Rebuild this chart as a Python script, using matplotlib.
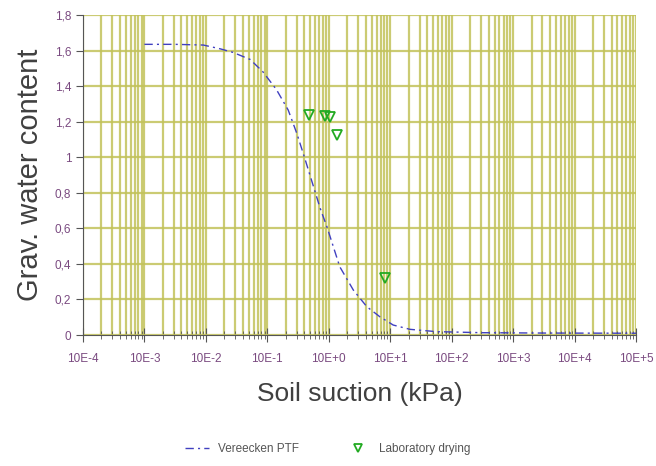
import matplotlib
matplotlib.use("Agg")
import matplotlib.pyplot as plt
import numpy as np
from matplotlib.ticker import FixedLocator, LogLocator, NullFormatter, FixedFormatter

plt.rcParams['font.family'] = ['Liberation Sans', 'DejaVu Sans']

# Vereecken PTF curve (suction kPa, gravimetric water content)
ptf_suction = [0.001, 0.00316, 0.0091, 0.017, 0.0275, 0.0525, 0.085, 0.141,
               0.219, 0.302, 0.407, 0.724, 0.933, 1.51, 2.51, 4.17, 6.76,
               11.2, 20.9, 56.2, 316.0, 3160.0, 100000.0]
ptf_water = [1.635, 1.635, 1.631, 1.61, 1.59, 1.55, 1.48, 1.38,
             1.265, 1.134, 0.994, 0.713, 0.609, 0.384, 0.253, 0.159, 0.103,
             0.056, 0.032, 0.019, 0.013, 0.011, 0.010]

# Laboratory drying points
lab_suction = [0.48, 0.87, 1.05, 1.38, 8.3]
lab_water = [1.24, 1.23, 1.225, 1.125, 0.32]

x_tick_vals = [1e-4, 1e-3, 1e-2, 1e-1, 1e0, 1e1, 1e2, 1e3, 1e4, 1e5]
x_tick_labels = ['10E-4', '10E-3', '10E-2', '10E-1', '10E+0', '10E+1',
                 '10E+2', '10E+3', '10E+4', '10E+5']
y_tick_vals = [0, 0.2, 0.4, 0.6, 0.8, 1.0, 1.2, 1.4, 1.6, 1.8]
y_tick_labels = ['0', '0,2', '0,4', '0,6', '0,8', '1', '1,2', '1,4', '1,6', '1,8']

grid_color = '#c2c25a'
label_color = '#7a4a80'

fig = plt.figure(figsize=(6.56, 4.66), dpi=100)
ax = fig.add_axes([0.1265, 0.2811, 0.8430, 0.6867])
ax.set_xscale('log')
ax.set_xlim(1e-4, 1e5)
ax.set_ylim(0, 1.8)

ax.xaxis.set_major_locator(FixedLocator(x_tick_vals))
ax.xaxis.set_major_formatter(FixedFormatter(x_tick_labels))
ax.xaxis.set_minor_locator(LogLocator(base=10, subs=np.arange(2, 10), numticks=100))
ax.xaxis.set_minor_formatter(NullFormatter())
ax.yaxis.set_major_locator(FixedLocator(y_tick_vals))
ax.yaxis.set_major_formatter(FixedFormatter(y_tick_labels))

ax.grid(True, which='major', axis='both', color=grid_color, lw=1.6, alpha=0.85)
ax.grid(True, which='minor', axis='x', color=grid_color, lw=1.6, alpha=0.85)
ax.set_axisbelow(True)

for s in ['top', 'right']:
    ax.spines[s].set_visible(False)
ax.spines['left'].set_color('#555555')
ax.spines['bottom'].set_color('#555555')
ax.spines['bottom'].set_zorder(3)
ax.spines['left'].set_zorder(3)

ax.tick_params(axis='both', which='major', labelsize=8.5, labelcolor=label_color, color='#555555')
ax.tick_params(axis='y', which='major', direction='out', length=5)
ax.tick_params(axis='x', which='major', direction='inout', length=10, pad=8)
ax.tick_params(axis='x', which='minor', direction='inout', length=6, color='#555555')

ax.plot(ptf_suction, ptf_water, color='#4040c0', lw=1.0, dashes=(6, 3, 1.5, 3),
        label='Vereecken PTF', clip_on=False)
ax.plot(lab_suction, lab_water, linestyle='none', marker='v', markersize=7,
        markerfacecolor='none', markeredgecolor='#22aa22', markeredgewidth=1.3,
        label='Laboratory drying')

ax.set_ylabel('Grav. water content', fontsize=21, color='#404040', labelpad=8)
ax.set_xlabel('Soil suction (kPa)', fontsize=19, color='#404040', labelpad=12)

fig.legend(loc='lower center', bbox_to_anchor=(0.5, 0.0), ncol=2, frameon=False,
           fontsize=8.5, labelcolor='#555555', handlelength=2.0, columnspacing=4,
           markerscale=0.8)

fig.savefig('out.png', dpi=100)
